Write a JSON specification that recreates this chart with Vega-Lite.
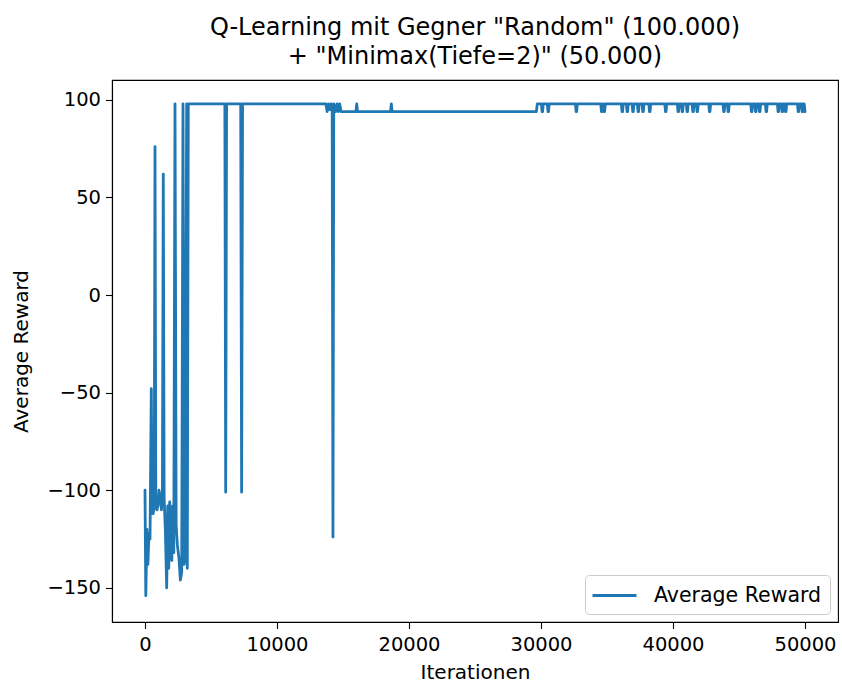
{
  "$schema": "https://vega.github.io/schema/vega-lite/v6.json",
  "width": 726,
  "height": 542,
  "autosize": "none",
  "padding": {"left": 112, "top": 80, "right": 4, "bottom": 60},
  "background": "white",
  "title": {
    "text": ["Q-Learning mit Gegner \"Random\" (100.000)", "+ \"Minimax(Tiefe=2)\" (50.000)"],
    "fontSize": 24,
    "font": "DejaVu Sans",
    "fontWeight": "normal",
    "color": "black",
    "anchor": "middle",
    "offset": 11,
    "lineHeight": 29
  },
  "config": {"view": {"stroke": "black", "strokeWidth": 1.1}, "font": "DejaVu Sans"},
  "data": {
    "values": [
      {"iteration": 0, "reward": -100},
      {"iteration": 60, "reward": -154},
      {"iteration": 150, "reward": -120},
      {"iteration": 220, "reward": -138},
      {"iteration": 300, "reward": -122},
      {"iteration": 380, "reward": -125},
      {"iteration": 477, "reward": -48},
      {"iteration": 540, "reward": -112},
      {"iteration": 620, "reward": -112},
      {"iteration": 700, "reward": -108},
      {"iteration": 758, "reward": 76},
      {"iteration": 820, "reward": -108},
      {"iteration": 900, "reward": -110},
      {"iteration": 980, "reward": -108},
      {"iteration": 1060, "reward": -100},
      {"iteration": 1150, "reward": -104},
      {"iteration": 1250, "reward": -110},
      {"iteration": 1320, "reward": -100},
      {"iteration": 1386, "reward": 62},
      {"iteration": 1450, "reward": -104},
      {"iteration": 1540, "reward": -120},
      {"iteration": 1644, "reward": -150},
      {"iteration": 1720, "reward": -108},
      {"iteration": 1800, "reward": -140},
      {"iteration": 1870, "reward": -106},
      {"iteration": 1950, "reward": -120},
      {"iteration": 2030, "reward": -136},
      {"iteration": 2100, "reward": -108},
      {"iteration": 2180, "reward": -132},
      {"iteration": 2273, "reward": 98},
      {"iteration": 2360, "reward": -118},
      {"iteration": 2450, "reward": -128},
      {"iteration": 2576, "reward": -135},
      {"iteration": 2680, "reward": -146},
      {"iteration": 2780, "reward": -142},
      {"iteration": 2879, "reward": 98},
      {"iteration": 2960, "reward": -138},
      {"iteration": 3030, "reward": -136},
      {"iteration": 3159, "reward": 98},
      {"iteration": 3205, "reward": -140},
      {"iteration": 3280, "reward": 98},
      {"iteration": 6050, "reward": 98},
      {"iteration": 6113, "reward": -101},
      {"iteration": 6180, "reward": 98},
      {"iteration": 7250, "reward": 98},
      {"iteration": 7320, "reward": -101},
      {"iteration": 7390, "reward": 98},
      {"iteration": 13700, "reward": 98},
      {"iteration": 13800, "reward": 94},
      {"iteration": 13900, "reward": 98},
      {"iteration": 14000, "reward": 95},
      {"iteration": 14100, "reward": 98},
      {"iteration": 14180, "reward": 96},
      {"iteration": 14240, "reward": -124},
      {"iteration": 14300, "reward": 98},
      {"iteration": 14450, "reward": 94},
      {"iteration": 14550, "reward": 98},
      {"iteration": 14650, "reward": 94},
      {"iteration": 14750, "reward": 98},
      {"iteration": 14850, "reward": 94},
      {"iteration": 15980, "reward": 94},
      {"iteration": 16040, "reward": 98},
      {"iteration": 16100, "reward": 94},
      {"iteration": 18600, "reward": 94},
      {"iteration": 18660, "reward": 98},
      {"iteration": 18720, "reward": 94},
      {"iteration": 29650, "reward": 94},
      {"iteration": 29720, "reward": 98},
      {"iteration": 30030, "reward": 98},
      {"iteration": 30080, "reward": 94},
      {"iteration": 30120, "reward": 94},
      {"iteration": 30170, "reward": 98},
      {"iteration": 30480, "reward": 98},
      {"iteration": 30530, "reward": 94},
      {"iteration": 30570, "reward": 94},
      {"iteration": 30620, "reward": 98},
      {"iteration": 32610, "reward": 98},
      {"iteration": 32660, "reward": 94},
      {"iteration": 32700, "reward": 94},
      {"iteration": 32750, "reward": 98},
      {"iteration": 34530, "reward": 98},
      {"iteration": 34580, "reward": 94},
      {"iteration": 34620, "reward": 94},
      {"iteration": 34700, "reward": 98},
      {"iteration": 34780, "reward": 94},
      {"iteration": 34820, "reward": 94},
      {"iteration": 34870, "reward": 98},
      {"iteration": 36090, "reward": 98},
      {"iteration": 36140, "reward": 94},
      {"iteration": 36180, "reward": 94},
      {"iteration": 36230, "reward": 98},
      {"iteration": 36470, "reward": 98},
      {"iteration": 36520, "reward": 94},
      {"iteration": 36560, "reward": 94},
      {"iteration": 36610, "reward": 98},
      {"iteration": 36900, "reward": 98},
      {"iteration": 36950, "reward": 94},
      {"iteration": 36990, "reward": 94},
      {"iteration": 37040, "reward": 98},
      {"iteration": 37300, "reward": 98},
      {"iteration": 37350, "reward": 94},
      {"iteration": 37390, "reward": 94},
      {"iteration": 37440, "reward": 98},
      {"iteration": 37660, "reward": 98},
      {"iteration": 37710, "reward": 94},
      {"iteration": 37750, "reward": 94},
      {"iteration": 37800, "reward": 98},
      {"iteration": 38170, "reward": 98},
      {"iteration": 38220, "reward": 94},
      {"iteration": 38260, "reward": 94},
      {"iteration": 38310, "reward": 98},
      {"iteration": 39380, "reward": 98},
      {"iteration": 39430, "reward": 94},
      {"iteration": 39470, "reward": 94},
      {"iteration": 39520, "reward": 98},
      {"iteration": 40330, "reward": 98},
      {"iteration": 40380, "reward": 94},
      {"iteration": 40420, "reward": 94},
      {"iteration": 40470, "reward": 98},
      {"iteration": 40640, "reward": 98},
      {"iteration": 40690, "reward": 94},
      {"iteration": 40730, "reward": 94},
      {"iteration": 40780, "reward": 98},
      {"iteration": 41010, "reward": 98},
      {"iteration": 41060, "reward": 94},
      {"iteration": 41100, "reward": 94},
      {"iteration": 41150, "reward": 98},
      {"iteration": 41450, "reward": 98},
      {"iteration": 41500, "reward": 94},
      {"iteration": 41540, "reward": 94},
      {"iteration": 41590, "reward": 98},
      {"iteration": 41770, "reward": 98},
      {"iteration": 41820, "reward": 94},
      {"iteration": 41860, "reward": 94},
      {"iteration": 41910, "reward": 98},
      {"iteration": 42710, "reward": 98},
      {"iteration": 42760, "reward": 94},
      {"iteration": 42800, "reward": 94},
      {"iteration": 42850, "reward": 98},
      {"iteration": 43790, "reward": 98},
      {"iteration": 43840, "reward": 94},
      {"iteration": 43880, "reward": 94},
      {"iteration": 43930, "reward": 98},
      {"iteration": 44120, "reward": 98},
      {"iteration": 44170, "reward": 94},
      {"iteration": 44210, "reward": 94},
      {"iteration": 44260, "reward": 98},
      {"iteration": 45890, "reward": 98},
      {"iteration": 45940, "reward": 94},
      {"iteration": 45980, "reward": 94},
      {"iteration": 46030, "reward": 98},
      {"iteration": 46200, "reward": 98},
      {"iteration": 46250, "reward": 94},
      {"iteration": 46290, "reward": 94},
      {"iteration": 46340, "reward": 98},
      {"iteration": 46500, "reward": 98},
      {"iteration": 46550, "reward": 94},
      {"iteration": 46590, "reward": 94},
      {"iteration": 46640, "reward": 98},
      {"iteration": 47000, "reward": 98},
      {"iteration": 47050, "reward": 94},
      {"iteration": 47090, "reward": 94},
      {"iteration": 47140, "reward": 98},
      {"iteration": 47910, "reward": 98},
      {"iteration": 47960, "reward": 94},
      {"iteration": 48000, "reward": 94},
      {"iteration": 48050, "reward": 98},
      {"iteration": 48210, "reward": 98},
      {"iteration": 48260, "reward": 94},
      {"iteration": 48300, "reward": 94},
      {"iteration": 48350, "reward": 98},
      {"iteration": 48470, "reward": 98},
      {"iteration": 48520, "reward": 94},
      {"iteration": 48560, "reward": 94},
      {"iteration": 48610, "reward": 98},
      {"iteration": 49430, "reward": 98},
      {"iteration": 49480, "reward": 94},
      {"iteration": 49520, "reward": 94},
      {"iteration": 49570, "reward": 98},
      {"iteration": 49730, "reward": 98},
      {"iteration": 49780, "reward": 94},
      {"iteration": 49820, "reward": 94},
      {"iteration": 49870, "reward": 98},
      {"iteration": 49940, "reward": 98},
      {"iteration": 50000, "reward": 94}
    ]
  },
  "mark": {"type": "line", "strokeWidth": 2.8, "strokeJoin": "round", "strokeCap": "round"},
  "encoding": {
    "x": {
      "field": "iteration",
      "type": "quantitative",
      "scale": {"domain": [-2500, 52500], "nice": false, "zero": false},
      "axis": {
        "title": "Iterationen",
        "values": [0, 10000, 20000, 30000, 40000, 50000],
        "format": "d",
        "grid": false,
        "tickSize": 6.5,
        "tickWidth": 1.1,
        "tickColor": "black",
        "domainColor": "black",
        "domainWidth": 1.1,
        "labelFontSize": 19.5,
        "titleFontSize": 20,
        "labelColor": "black",
        "titleColor": "black",
        "titleFontWeight": "normal",
        "labelPadding": 7,
        "titlePadding": 8,
        "labelFont": "DejaVu Sans",
        "titleFont": "DejaVu Sans"
      }
    },
    "y": {
      "field": "reward",
      "type": "quantitative",
      "scale": {"domain": [-167.5, 110.2], "nice": false, "zero": false},
      "axis": {
        "title": "Average Reward",
        "values": [-150, -100, -50, 0, 50, 100],
        "format": "d",
        "grid": false,
        "tickSize": 6.5,
        "tickWidth": 1.1,
        "tickColor": "black",
        "domainColor": "black",
        "domainWidth": 1.1,
        "labelFontSize": 19.5,
        "titleFontSize": 20,
        "labelColor": "black",
        "titleColor": "black",
        "titleFontWeight": "normal",
        "labelPadding": 5,
        "titlePadding": 15,
        "labelFont": "DejaVu Sans",
        "titleFont": "DejaVu Sans"
      }
    },
    "color": {
      "datum": "Average Reward",
      "scale": {"range": ["#1f77b4"]},
      "legend": {
        "title": null,
        "orient": "bottom-right",
        "offset": 8,
        "symbolType": "M-2,0H2",
        "symbolSize": 484,
        "symbolStrokeWidth": 2.8,
        "symbolOffset": 9,
        "labelFontSize": 20.5,
        "labelFont": "DejaVu Sans",
        "labelColor": "black",
        "labelOffset": 27,
        "labelLimit": 400,
        "strokeColor": "#cccccc",
        "fillColor": "white",
        "padding": 8,
        "cornerRadius": 4
      }
    }
  }
}
